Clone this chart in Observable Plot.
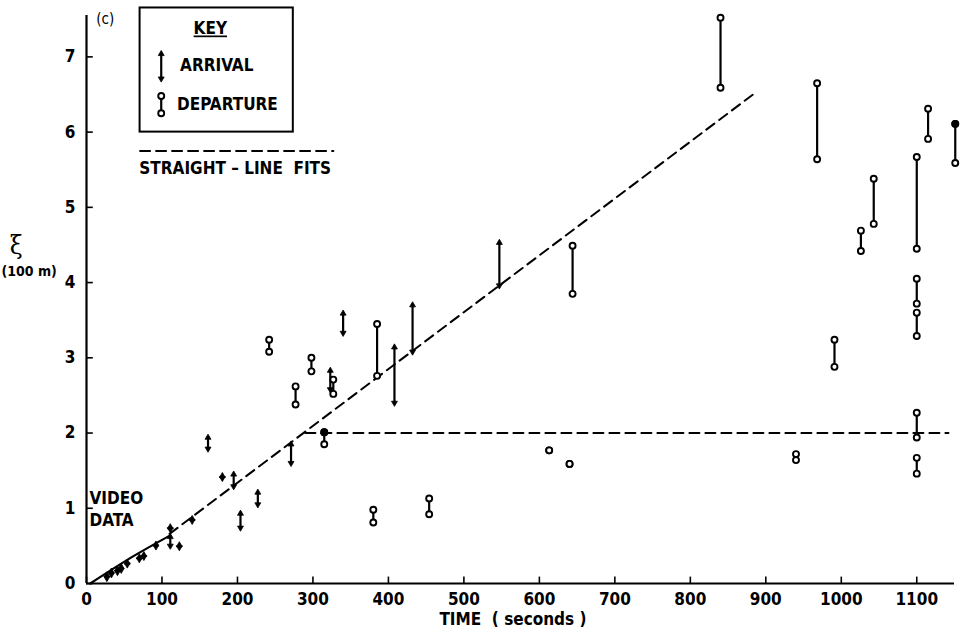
<!DOCTYPE html>
<html>
<head>
<meta charset="utf-8">
<script src="https://cdn.jsdelivr.net/npm/d3@7"></script>
<script src="https://cdn.jsdelivr.net/npm/@observablehq/plot@0.6"></script>
<style>
  html, body { margin: 0; padding: 0; background: white; }
  #chart svg { display: block; font-stretch: condensed; }
  #chart svg text { font-stretch: condensed; }
</style>
</head>
<body>
<div id="chart"></div>
<script>
// ---- Data ----
const xTicks = [0, 100, 200, 300, 400, 500, 600, 700, 800, 900, 1000, 1100];
const yTicks = [0, 1, 2, 3, 4, 5, 6, 7];

// arrivals: [time (s), xi low, xi high] (units of 100 m)
const arrivals = [
  [27, 0.07, 0.11], [33, 0.12, 0.16], [41, 0.15, 0.19], [46, 0.18, 0.22],
  [54, 0.25, 0.28], [70, 0.32, 0.35], [76, 0.35, 0.38], [92, 0.49, 0.52],
  [111, 0.72, 0.75], [111, 0.50, 0.62], [123, 0.48, 0.51], [140, 0.83, 0.86],
  [161, 1.79, 1.94], [180, 1.40, 1.43], [195, 1.29, 1.45], [204, 0.74, 0.93],
  [227, 1.05, 1.21], [271, 1.60, 1.85], [323, 2.58, 2.83], [340, 3.33, 3.59],
  [408, 2.40, 3.14], [432, 3.08, 3.70], [547, 3.96, 4.53]
];

// departures: [time (s), xi low, xi high]
const departures = [
  [242, 3.08, 3.24], [277, 2.38, 2.62], [298, 2.82, 3.00], [315, 1.85, 2.01],
  [327, 2.52, 2.71], [380, 0.81, 0.98], [385, 2.76, 3.45], [454, 0.92, 1.13],
  [613, 1.77, 1.77], [640, 1.59, 1.59], [644, 3.85, 4.49], [840, 6.59, 7.52],
  [940, 1.64, 1.72], [968, 5.64, 6.65], [991, 2.88, 3.24], [1026, 4.42, 4.69],
  [1043, 4.78, 5.38], [1100, 4.45, 5.67], [1100, 3.72, 4.05], [1100, 3.29, 3.60],
  [1100, 1.94, 2.27], [1100, 1.46, 1.67], [1115, 5.91, 6.31], [1151, 5.59, 6.11]
];
// departure end points drawn as filled circles
const filledEnds = [[315, 2.01], [1151, 6.11]];

// straight-line fits and video data
const fitRising = [[110, 0.66], [887, 6.53]];
const fitFlat = [[290, 2.0], [1142, 2.0]];
const videoLine = [[5, 0], [60, 0.35], [111, 0.64]];

// key (legend) contents
const keyBox = [[71, 274, 6.0, 7.65]];
const keyArrival = [[99, 6.71, 7.04]];
const keyDeparture = [[99, 6.25, 6.48]];
const keyFitLine = [[71, 5.75], [327, 5.75]];
const keyTitle = [{x: 164, y: 7.37, text: "KEY"}];
const keyLabels = [
  {x: 124, y: 6.88, text: "ARRIVAL"},
  {x: 120, y: 6.36, text: "DEPARTURE"},
  {x: 70, y: 5.52, text: "STRAIGHT – LINE  FITS"}
];
const panelLabel = [{x: 13, y: 7.5, text: "(c)"}];
const videoLabel = [
  {x: 4, y: 1.13, text: "VIDEO"},
  {x: 4, y: 0.84, text: "DATA"}
];

const FONT = "'DejaVu Sans Condensed', 'DejaVu Sans', sans-serif";

function arrivalMarks(data) {
  return [
    Plot.ruleX(data, {x: d => d[0], y1: d => d[1], y2: d => d[2], stroke: "black", strokeWidth: 2.2}),
    Plot.dot(data, {x: d => d[0], y: d => d[2], symbol: "triangle", r: 2.2, fill: "black", stroke: "black", strokeWidth: 0.8}),
    Plot.dot(data, {x: d => d[0], y: d => d[1], symbol: "triangle", rotate: 180, r: 2.2, fill: "black", stroke: "black", strokeWidth: 0.8})
  ];
}
function departureMarks(data) {
  return [
    Plot.ruleX(data, {x: d => d[0], y1: d => d[1], y2: d => d[2], stroke: "black", strokeWidth: 2.2}),
    Plot.dot(data, {x: d => d[0], y: d => d[2], r: 3, fill: "white", stroke: "black", strokeWidth: 1.9}),
    Plot.dot(data, {x: d => d[0], y: d => d[1], r: 3, fill: "white", stroke: "black", strokeWidth: 1.9})
  ];
}

const chart = Plot.plot({
  width: 961,
  height: 632,
  marginLeft: 86,
  marginRight: 7,
  marginTop: 15,
  marginBottom: 49,
  x: {domain: [0, 1150]},
  y: {domain: [0, 7.55]},
  style: {fontFamily: FONT, fontSize: "17px", background: "white", color: "black", overflow: "visible"},
  marks: [
    Plot.axisX({ticks: xTicks, tickFormat: d => String(d), tickSize: 0, tickPadding: 9, label: null, fontSize: 17, fontWeight: "bold"}),
    Plot.axisY({ticks: yTicks, tickFormat: d => String(d), tickSize: 0, tickPadding: 11, label: null, fontSize: 17, fontWeight: "bold"}),
    Plot.ruleX(xTicks, {x: d => d, y1: 0, y2: 0.085, stroke: "black", strokeWidth: 1.6}),
    Plot.ruleY(yTicks, {y: d => d, x1: 0, x2: 9, stroke: "black", strokeWidth: 1.6}),
    Plot.ruleX([0], {stroke: "black", strokeWidth: 2.2}),
    Plot.ruleY([0], {stroke: "black", strokeWidth: 2.2}),

    // fits
    Plot.line(fitRising, {x: d => d[0], y: d => d[1], stroke: "black", strokeWidth: 2, strokeDasharray: "10,6"}),
    Plot.line(fitFlat, {x: d => d[0], y: d => d[1], stroke: "black", strokeWidth: 2, strokeDasharray: "10,6"}),
    Plot.line(videoLine, {x: d => d[0], y: d => d[1], stroke: "black", strokeWidth: 2.2, curve: "natural"}),

    // data
    ...arrivalMarks(arrivals),
    ...departureMarks(departures),
    Plot.dot(filledEnds, {x: d => d[0], y: d => d[1], r: 3, fill: "black", stroke: "black", strokeWidth: 1.9}),

    // key
    Plot.rect(keyBox, {x1: d => d[0], x2: d => d[1], y1: d => d[2], y2: d => d[3], fill: "none", stroke: "black", strokeWidth: 2}),
    ...arrivalMarks(keyArrival),
    ...departureMarks(keyDeparture),
    Plot.line(keyFitLine, {x: d => d[0], y: d => d[1], stroke: "black", strokeWidth: 2, strokeDasharray: "10,6"}),
    Plot.text(keyTitle, {x: "x", y: "y", text: "text", textAnchor: "middle", fontSize: 17, fontWeight: "bold", fill: "black"}),
    Plot.text(keyLabels, {x: "x", y: "y", text: "text", textAnchor: "start", fontSize: 17, fontWeight: "bold", fill: "black"}),
    Plot.text(panelLabel, {x: "x", y: "y", text: "text", textAnchor: "start", fontSize: 15, fill: "black"}),
    Plot.text(videoLabel, {x: "x", y: "y", text: "text", textAnchor: "start", fontSize: 17, fontWeight: "bold", fill: "black"}),

    // axis titles
    Plot.text(["ξ"], {x: -93, y: 4.49, text: d => d, fontSize: 26, fontFamily: "'DejaVu Serif', serif", fill: "black"}),
    Plot.text(["(100 m)"], {x: -76, y: 4.15, text: d => d, fontSize: 14, fontWeight: "bold", fill: "black"}),
    Plot.text(["TIME  ( seconds )"], {x: 565, frameAnchor: "bottom", dy: 41, text: d => d, fontSize: 17, fontWeight: "bold", fill: "black"})
  ]
});

document.getElementById("chart").appendChild(chart);
d3.select(chart).selectAll("text").filter(function () { return this.textContent === "KEY"; })
  .style("text-decoration", "underline");
</script>
</body>
</html>
